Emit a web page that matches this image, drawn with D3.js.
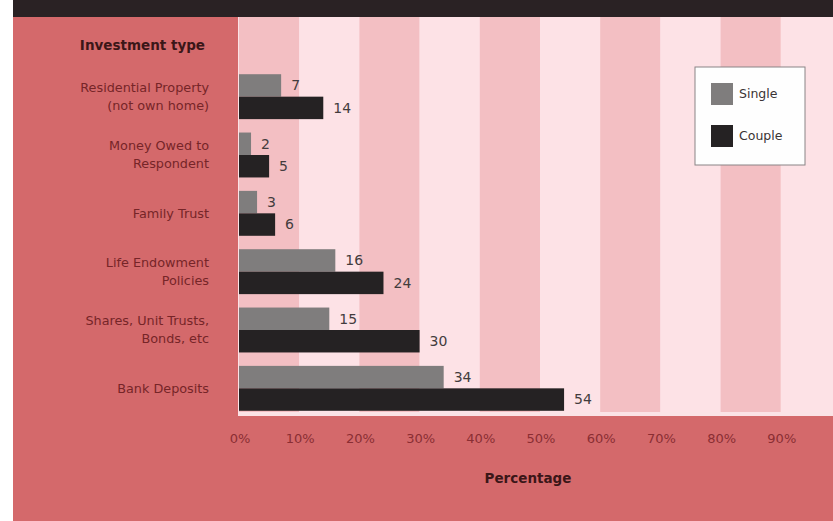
<!DOCTYPE html>
<meta charset="utf-8">
<style>
body { margin: 0; background: #fff; }
svg text { font-family: "DejaVu Sans", "Liberation Sans", sans-serif; }
.cat { font-size: 12.8px; fill: #762528; text-anchor: end; }
.val { font-size: 14px; fill: #433c3d; }
.tick { font-size: 13px; fill: #8a2e33; text-anchor: middle; }
.head { font-size: 13.5px; font-weight: bold; fill: #3b1618; }
.leg { font-size: 12.5px; fill: #3a3434; }
</style>
<body>
<script src="https://cdn.jsdelivr.net/npm/d3@7"></script>
<script>

var categories = [
  ["Residential Property", "(not own home)"],
  ["Money Owed to", "Respondent"],
  ["Family Trust"],
  ["Life Endowment", "Policies"],
  ["Shares, Unit Trusts,", "Bonds, etc"],
  ["Bank Deposits"]
];
var series = ["Single", "Couple"];
var single = [7, 2, 3, 16, 15, 34];
var couple = [14, 5, 6, 24, 30, 54];
var tickValues = [0, 10, 20, 30, 40, 50, 60, 70, 80, 90];

var width = 833,
    height = 521;

var colors = { Single: "#7f7d7d", Couple: "#252223" };

var svg = d3.select("body").append("svg")
    .attr("width", width)
    .attr("height", height);

// backgrounds
svg.append("rect").attr("x", 13).attr("y", 0).attr("width", width - 13).attr("height", height).attr("fill", "#d4696b");
svg.append("rect").attr("x", 13).attr("y", 0).attr("width", width - 13).attr("height", 17).attr("fill", "#2a2224");

var x = d3.scaleLinear().domain([0, 100]).range([239, 841]);

var keys = categories.map(function(d, i) { return i; });
var y = d3.scaleBand()
    .domain(keys)
    .range([67.5, 417.5])
    .paddingInner(0.23)
    .paddingOuter(0.115);
var ySub = d3.scaleBand().domain(series).range([0, y.bandwidth()]);

// plot area stripes
var plot = svg.append("g");
plot.append("rect")
    .attr("x", x(0) - 1).attr("y", 17)
    .attr("width", width - x(0) + 1).attr("height", 399)
    .attr("fill", "#fbe3e6");
plot.selectAll(".stripe")
    .data(d3.range(0, 100, 10))
  .enter().append("rect")
    .attr("class", "stripe")
    .attr("x", function(d) { return x(d); })
    .attr("y", 17)
    .attr("width", x(10) - x(0))
    .attr("height", 395)
    .attr("fill", function(d, i) { return i % 2 === 0 ? "#f3bfc3" : "#fde2e6"; });

// bars
var rows = keys.map(function(i) {
  return { i: i, Single: single[i], Couple: couple[i] };
});

var groups = svg.selectAll(".grp")
    .data(rows)
  .enter().append("g")
    .attr("class", "grp")
    .attr("transform", function(d) { return "translate(0," + y(d.i) + ")"; });

series.forEach(function(s) {
  groups.append("rect")
      .attr("x", x(0))
      .attr("y", ySub(s))
      .attr("width", function(d) { return x(d[s]) - x(0); })
      .attr("height", ySub.bandwidth())
      .attr("fill", colors[s]);
  groups.append("text")
      .attr("class", "val")
      .attr("x", function(d) { return x(d[s]) + 10; })
      .attr("y", ySub(s) + ySub.bandwidth() / 2)
      .attr("dy", "0.35em")
      .text(function(d) { return d[s]; });
});

// category labels
groups.each(function(d) {
  var lines = categories[d.i];
  var t = d3.select(this).append("text")
      .attr("class", "cat")
      .attr("x", 209)
      .attr("y", y.bandwidth() / 2 - (lines.length - 1) * 9);
  lines.forEach(function(l, j) {
    t.append("tspan").attr("x", 209).attr("dy", j === 0 ? "0.35em" : 18).text(l);
  });
});

svg.append("text").attr("class", "head")
    .attr("x", 205).attr("y", 50).attr("text-anchor", "end")
    .text("Investment type");

// x axis
svg.selectAll(".tick")
    .data(tickValues)
  .enter().append("text")
    .attr("class", "tick")
    .attr("x", function(d) { return x(d) + 1; })
    .attr("y", 443)
    .text(function(d) { return d + "%"; });

svg.append("text").attr("class", "head")
    .attr("x", 528).attr("y", 483).attr("text-anchor", "middle")
    .text("Percentage");

// legend
var legend = svg.append("g").attr("transform", "translate(695,67)");
legend.append("rect")
    .attr("width", 110).attr("height", 98)
    .attr("fill", "#fefefe").attr("stroke", "#8a8486").attr("stroke-width", 1);
series.forEach(function(s, i) {
  legend.append("rect")
      .attr("x", 16).attr("y", 16 + i * 42)
      .attr("width", 22).attr("height", 22)
      .attr("fill", colors[s]);
  legend.append("text").attr("class", "leg")
      .attr("x", 44).attr("y", 27 + i * 42).attr("dy", "0.35em")
      .text(s);
});

</script>
